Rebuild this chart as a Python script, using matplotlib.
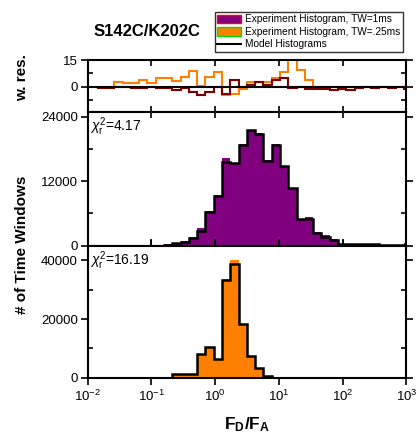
import numpy as np
import matplotlib
matplotlib.use('Agg')
import matplotlib.pyplot as plt
from matplotlib.patches import Patch
from matplotlib.lines import Line2D

plt.rcParams['font.family'] = ['Liberation Sans', 'DejaVu Sans']
plt.rcParams['mathtext.fontset'] = 'custom'
plt.rcParams['mathtext.rm'] = 'Liberation Sans'
plt.rcParams['mathtext.it'] = 'Liberation Sans:italic'
plt.rcParams['mathtext.bf'] = 'Liberation Sans:bold'

# log-spaced FD/FA bins, 0.13 decades wide
bin_start = -1.844
bin_width = 0.13
n_bins = 38
edges = 10 ** (bin_start + bin_width * np.arange(n_bins + 1))

# TW = 1 ms histogram (data) and model, one value per bin
hist_1ms = [0, 0, 0, 0, 0, 0, 0, 0,
            400, 500, 800, 1600, 3240, 6500, 9400, 16300, 15400, 18900,
            21600, 20900, 16000, 18900, 14900, 10800, 5050, 5300, 2610, 1950,
            1190, 350, 350, 350, 350, 350, 120, 120, 120, 550]
model_1ms = [0, 0, 0, 0, 0, 0, 0, 0,
             50, 450, 750, 1490, 2800, 6340, 9330, 15670, 15370, 18790,
             21460, 20840, 15860, 18790, 14900, 10710, 5040, 5040, 2430, 1680,
             1060, 300, 300, 300, 300, 300, 100, 100, 100, 100]

# TW = 0.25 ms histogram (data) and model
hist_025ms = [0, 0, 0, 0, 0, 0, 0, 0,
              0, 900, 900, 900, 8100, 10600, 6300, 33750, 40240, 18400,
              7400, 3200, 600, 0, 0, 0, 0, 0, 0, 0,
              0, 0, 0, 0, 0, 0, 0, 0, 0, 0]
model_025ms = [0, 0, 0, 0, 0, 0, 0, 0,
               0, 1260, 1260, 1260, 8100, 10600, 6290, 33400, 38770, 18360,
               7420, 3210, 580, 0, 0, 0, 0, 0, 0, 0,
               0, 0, 0, 0, 0, 0, 0, 0, 0, 0]

# weighted residuals
res_1ms = [-0.5, -0.5, 0, 0, -0.5, -0.5, 0, -0.5,
           -0.5, -1.5, -0.5, -2.8, -4.7, -2.8, 0, -4.1, 3.8, 0,
           1.0, 2.8, 1.0, 3.8, 4.7, -0.5, 0, -0.9, -0.9, -0.9,
           -2.0, -0.9, -2.0, -0.5, 0, -0.5, 0, -0.5, 0, -0.9]
res_025ms = [np.nan, np.nan, 2.8, 1.9, 1.9, 3.8, 1.9, 4.7,
             4.7, 3.2, 5.6, 8.8, 0.5, 5.6, 8.1, -4.3, -3.8, -1.3,
             2.8, 2.8, 2.8, 4.7, 8.4, 30.0, 9.2, 3.8, 0, 0,
             0, 0, 0, 0, 0, 0, 0, 0, 0, 0]

chi2_1ms = 4.17
chi2_025ms = 16.19

purple = '#800080'
orange = '#FF8000'
maroon = '#800000'

fig = plt.figure(figsize=(4.17, 4.38), dpi=100)
ax_res = fig.add_axes([0.2103, 0.7443, 0.7645, 0.1187])
ax_mid = fig.add_axes([0.2103, 0.4390, 0.7645, 0.3053])
ax_bot = fig.add_axes([0.2103, 0.1377, 0.7645, 0.3014])

# residuals
r1 = np.array(res_1ms)
r2 = np.array(res_025ms)
ax_res.stairs(r2[2:], edges[2:], color=orange, lw=1.5, baseline=0)
ax_res.stairs(r1, edges, color=maroon, lw=1.5, baseline=0)
ax_res.axhline(0, color='black', lw=1.5, zorder=5)
ax_res.set_ylim(-14, 15)
ax_res.set_yticks([0, 15])
ax_res.set_yticks([-7.5, 7.5], minor=True)

# TW = 1 ms
ax_mid.stairs(hist_1ms, edges, fill=True, color=purple)
ax_mid.stairs(model_1ms, edges, color='black', lw=1.8)
ax_mid.set_ylim(0, 24900)
ax_mid.set_yticks([0, 12000, 24000])
ax_mid.set_yticks([6000, 18000], minor=True)
ax_mid.text(0.008, 0.975, r'$\chi^2_{\rm r}$=%.2f' % chi2_1ms, transform=ax_mid.transAxes,
            ha='left', va='top', fontsize=10)

# TW = 0.25 ms
ax_bot.stairs(hist_025ms, edges, fill=True, color=orange)
ax_bot.stairs(model_025ms, edges, color='black', lw=1.8)
ax_bot.set_ylim(0, 45000)
ax_bot.set_yticks([0, 20000, 40000])
ax_bot.set_yticks([10000, 30000], minor=True)
ax_bot.text(0.008, 0.975, r'$\chi^2_{\rm r}$=%.2f' % chi2_025ms, transform=ax_bot.transAxes,
            ha='left', va='top', fontsize=10)
ax_bot.set_xlabel(r'$\mathbf{F_D/F_A}$', fontsize=12.5, labelpad=8)

fig.text(0.053, 0.824, 'w. res.', rotation=90, fontsize=11, fontweight='bold',
         ha='center', va='center')
fig.text(0.053, 0.44, '# of Time Windows', rotation=90, fontsize=11, fontweight='bold',
         ha='center', va='center')

for ax in (ax_res, ax_mid, ax_bot):
    ax.set_xscale('log')
    ax.set_xlim(1e-2, 1e3)
    ax.set_xticks([1e-2, 1e-1, 1e0, 1e1, 1e2, 1e3])
    ax.xaxis.set_minor_locator(matplotlib.ticker.NullLocator())
    for s in ax.spines.values():
        s.set_linewidth(1.5)
    ax.tick_params(axis='y', which='major', direction='out', length=5, width=1.2,
                   left=True, right=True, labelsize=9.5, pad=2)
    ax.tick_params(axis='y', which='minor', direction='in', length=3.5, width=1.2,
                   left=True, right=True)
    ax.tick_params(axis='x', which='major', direction='in', length=4.5, width=1.2,
                   top=True, bottom=True, labelbottom=False)

ax_bot.tick_params(axis='x', which='major', direction='out', length=5,
                   labelbottom=True, labelsize=9.5, pad=3)

fig.text(0.353, 0.929, 'S142C/K202C', fontsize=12, fontweight='bold', ha='center', va='center')

handles = [Patch(facecolor=purple, edgecolor='#FF0000', lw=1),
           Patch(facecolor=orange, edgecolor='#00DD00', lw=1),
           Line2D([], [], color='black', lw=1.5)]
labels = ['Experiment Histogram, TW=1ms',
          'Experiment Histogram, TW=.25ms',
          'Model Histograms']
leg = fig.legend(handles, labels, loc='upper right', bbox_to_anchor=(0.967, 0.973),
                 fontsize=7.3, frameon=True, fancybox=False, edgecolor='black',
                 handlelength=2.4, handleheight=0.9, handletextpad=0.4,
                 labelspacing=0.25, borderpad=0.25, borderaxespad=0)
leg.get_frame().set_linewidth(1.0)

fig.savefig('out.png', dpi=100)
